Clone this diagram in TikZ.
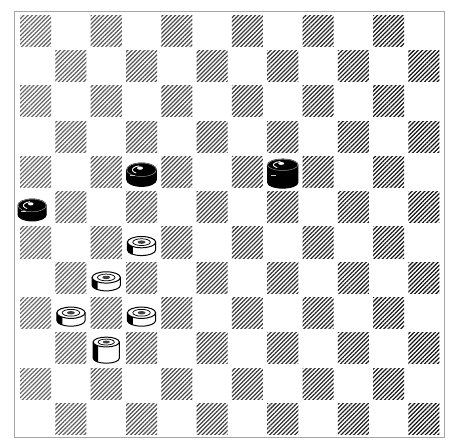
\documentclass[tikz,border=0pt]{standalone}
\usepackage{tikz}
\usetikzlibrary{patterns.meta}
\tikzset{
    dark/.style={pattern={Lines[angle=45,distance=2.4pt,line width=1pt]}},
    frame/.style={draw=black!35,line width=0.5pt},
    rim/.style={draw=black,line width=0.8pt},
    pics/whitepiece/.style n args={3}{code={%
        \path[rim,fill=white] (-#1,#3/2) -- (-#1,-#3/2) arc[start angle=180,end angle=360,x radius=#1,y radius=#2] -- (#1,#3/2) -- cycle;
        \fill[black] (-#1,#3/2) -- (-#1,-#3/2) arc[start angle=180,end angle=232,x radius=#1,y radius=#2] -- ++(0,#3) arc[start angle=232,end angle=180,x radius=#1,y radius=#2] -- cycle;
        \path[rim,fill=white] (0,#3/2) ellipse[x radius=#1,y radius=#2];
        \draw[line width=0.6pt] (0,#3/2) ellipse[x radius=0.62*#1,y radius=0.6*#2];
        \fill[black!75] (0,#3/2) ellipse[x radius=0.28*#1,y radius=0.3*#2];
    }},
    pics/blackpiece/.style n args={3}{code={%
        \path[rim,fill=black] (-#1,#3/2) -- (-#1,-#3/2) arc[start angle=180,end angle=360,x radius=#1,y radius=#2] -- (#1,#3/2) arc[start angle=0,end angle=180,x radius=#1,y radius=#2] -- cycle;
        \draw[white!60!black,line width=0.4pt] (0,#3/2) ellipse[x radius=#1,y radius=#2];
        \draw[white,line width=0.7pt] (0,#3/2) ++(105:0.62*#1 and 0.6*#2) arc[start angle=105,end angle=235,x radius=0.62*#1,y radius=0.6*#2];
        \fill[white] (-0.1*#1,#3/2+0.25*#2) ellipse[x radius=0.2*#1,y radius=0.25*#2];
        \draw[white!80!black,line width=0.5pt] (-0.8*#1,-0.1*#3) -- (-0.45*#1,-0.1*#3);
    }},
}

\begin{document}
\begin{tikzpicture}
    \useasboundingbox (-0.51,-12.07) rectangle (12.21,0.37);
    % board
    \foreach \r in {0,...,11}
      \foreach \c in {0,...,11} {
        \pgfmathtruncatemacro\odd{mod(\r+\c,2)}
        \pgfmathtruncatemacro\tone{60+3*\c}
        \ifnum\odd=0
          \path[dark,pattern color=black!\tone] (\c+.06,-\r-.06) rectangle (\c+.94,-\r-.94);
        \fi
      }
    \draw[frame] (-0.11,-12.01) rectangle (12.07,0.06);
    % black pieces
    \pic at (3.5,-4.58) {blackpiece={0.42}{0.19}{0.28}};
    \pic at (0.4,-5.58) {blackpiece={0.4}{0.18}{0.26}};
    \pic at (7.5,-4.55) {blackpiece={0.43}{0.16}{0.5}};
    % white pieces
    \pic at (3.5,-6.6) {whitepiece={0.4}{0.16}{0.22}};
    \pic at (2.5,-7.6) {whitepiece={0.4}{0.16}{0.22}};
    \pic at (1.5,-8.6) {whitepiece={0.4}{0.16}{0.22}};
    \pic at (3.5,-8.6) {whitepiece={0.4}{0.16}{0.22}};
    \pic at (2.5,-9.55) {whitepiece={0.37}{0.14}{0.46}};
\end{tikzpicture}
\end{document}
